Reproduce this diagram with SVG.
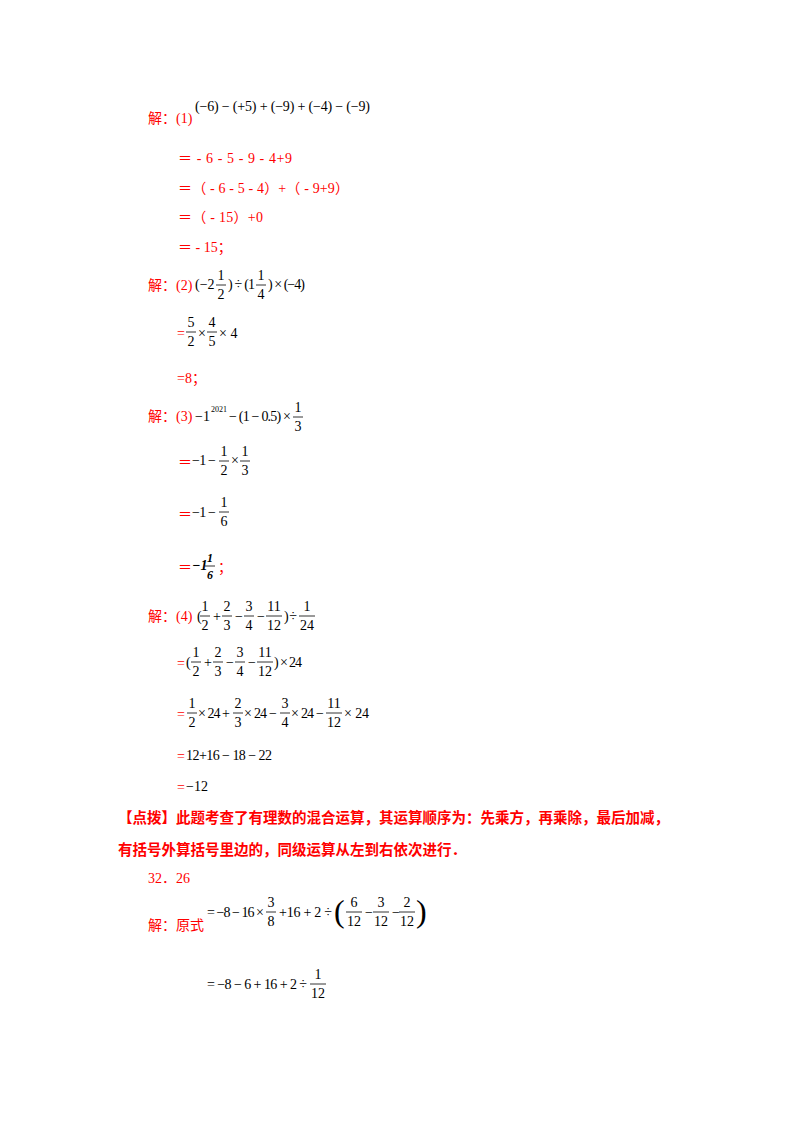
<svg xmlns="http://www.w3.org/2000/svg" width="800" height="1132" viewBox="0 0 800 1132">
<style>
text{font-family:"Liberation Serif","Noto Sans CJK SC",serif;font-size:14px;fill:#000}
.r{fill:#ff0000}
.c{font-family:"Liberation Serif","Noto Sans CJK SC",serif;fill:#ff0000;font-size:14px}
.b{font-weight:bold}
.m{text-anchor:middle}
line{stroke:#000;stroke-width:0.8}
</style>
<rect width="800" height="1132" fill="#fff"/>
<!-- (1) -->
<text x="148" y="123" class="c">解：(1)</text>
<text x="195" y="111" textLength="175">(−6) − (+5) + (−9) + (−4) − (−9)</text>
<text x="178" y="163" class="r" textLength="114">＝ - 6 - 5 - 9 - 4+9</text>
<text x="178" y="193" class="r" textLength="171">＝（ - 6 - 5 - 4）+（ - 9+9）</text>
<text x="178" y="222" class="r" textLength="85">＝（ - 15）+0</text>
<text x="178" y="252" class="r">＝ - 15；</text>
<!-- (2) -->
<text x="148" y="290" class="c">解：(2)</text>
<text x="195" y="289">(−2</text>
<text x="221" y="280" class="m">1</text><line x1="216" y1="285" x2="226" y2="285"/><text x="221" y="299" class="m">2</text>
<text x="228" y="289" textLength="27">) ÷ (1</text>
<text x="261" y="280" class="m">1</text><line x1="256" y1="285" x2="266" y2="285"/><text x="261" y="299" class="m">4</text>
<text x="268" y="289" textLength="37">) × (−4)</text>
<text x="177" y="338" class="r">=</text>
<text x="191" y="327" class="m">5</text><line x1="186" y1="332" x2="196" y2="332"/><text x="191" y="346" class="m">2</text>
<text x="198" y="338">×</text>
<text x="212" y="327" class="m">4</text><line x1="207" y1="332" x2="217" y2="332"/><text x="212" y="346" class="m">5</text>
<text x="219" y="338">× 4</text>
<text x="177" y="383" class="r">=8；</text>
<!-- (3) -->
<text x="148" y="421" class="c">解：(3)</text>
<text x="195" y="421">−1</text>
<text x="211" y="412" style="font-size:8px">2021</text>
<text x="229" y="421" textLength="62">− (1 − 0.5) ×</text>
<text x="298" y="412" class="m">1</text><line x1="293" y1="417" x2="303" y2="417"/><text x="298" y="431" class="m">3</text>
<text x="178" y="467" class="r">＝</text>
<text x="192" y="465" textLength="24">−1 −</text>
<text x="224" y="456" class="m">1</text><line x1="219" y1="461" x2="229" y2="461"/><text x="224" y="475" class="m">2</text>
<text x="231" y="465">×</text>
<text x="245" y="456" class="m">1</text><line x1="240" y1="461" x2="250" y2="461"/><text x="245" y="475" class="m">3</text>
<text x="178" y="519" class="r">＝</text>
<text x="192" y="517" textLength="24">−1 −</text>
<text x="224" y="507" class="m">1</text><line x1="219" y1="512" x2="229" y2="512"/><text x="224" y="526" class="m">6</text>
<text x="178" y="572" class="r">＝</text>
<text x="192" y="570" style="font-style:italic;font-weight:bold">−1</text>
<text x="210" y="562" class="m" style="font-style:italic;font-weight:bold;font-size:12px">1</text><line x1="205" y1="566" x2="215" y2="566"/><text x="210" y="579" class="m" style="font-style:italic;font-weight:bold;font-size:12px">6</text>
<text x="218" y="572" class="r">；</text>
<!-- (4) -->
<text x="148" y="621" class="c">解：(4)</text>
<text x="197" y="621">(</text>
<text x="205" y="611" class="m">1</text><line x1="200" y1="616" x2="210" y2="616"/><text x="205" y="630" class="m">2</text>
<text x="213" y="621">+</text>
<text x="227" y="611" class="m">2</text><line x1="222" y1="616" x2="232" y2="616"/><text x="227" y="630" class="m">3</text>
<text x="235" y="621">−</text>
<text x="249" y="611" class="m">3</text><line x1="244" y1="616" x2="254" y2="616"/><text x="249" y="630" class="m">4</text>
<text x="257" y="621">−</text>
<text x="274" y="611" class="m">11</text><line x1="266" y1="616" x2="282" y2="616"/><text x="274" y="630" class="m">12</text>
<text x="284" y="621" textLength="13">) ÷</text>
<text x="307" y="611" class="m">1</text><line x1="299" y1="616" x2="315" y2="616"/><text x="307" y="630" class="m">24</text>
<text x="177" y="668" class="r">=</text>
<text x="186" y="667">(</text>
<text x="196" y="657" class="m">1</text><line x1="191" y1="662" x2="201" y2="662"/><text x="196" y="676" class="m">2</text>
<text x="204" y="667">+</text>
<text x="218" y="657" class="m">2</text><line x1="213" y1="662" x2="223" y2="662"/><text x="218" y="676" class="m">3</text>
<text x="226" y="667">−</text>
<text x="240" y="657" class="m">3</text><line x1="235" y1="662" x2="245" y2="662"/><text x="240" y="676" class="m">4</text>
<text x="248" y="667">−</text>
<text x="265" y="657" class="m">11</text><line x1="257" y1="662" x2="273" y2="662"/><text x="265" y="676" class="m">12</text>
<text x="274" y="667" textLength="28">) × 24</text>
<text x="177" y="719" class="r">=</text>
<text x="192" y="708" class="m">1</text><line x1="187" y1="713" x2="197" y2="713"/><text x="192" y="727" class="m">2</text>
<text x="198" y="718" textLength="32">× 24 +</text>
<text x="238" y="708" class="m">2</text><line x1="233" y1="713" x2="243" y2="713"/><text x="238" y="727" class="m">3</text>
<text x="244" y="718" textLength="33">× 24 −</text>
<text x="285" y="708" class="m">3</text><line x1="280" y1="713" x2="290" y2="713"/><text x="285" y="727" class="m">4</text>
<text x="291" y="718" textLength="33">× 24 −</text>
<text x="334" y="708" class="m">11</text><line x1="326" y1="713" x2="342" y2="713"/><text x="334" y="727" class="m">12</text>
<text x="344" y="718" textLength="25">× 24</text>
<text x="177" y="761" class="r">=</text>
<text x="186" y="760" textLength="86">12+16 − 18 − 22</text>
<text x="177" y="792" class="r">=</text>
<text x="186" y="791">−12</text>
<!-- note -->
<text x="118" y="823" class="c b" style="font-size:14.5px">【点拨】此题考查了有理数的混合运算，其运算顺序为：先乘方，再乘除，最后加减，</text>
<text x="118" y="855" class="c b" style="font-size:14.5px">有括号外算括号里边的，同级运算从左到右依次进行．</text>
<text x="148" y="883" class="c">32．26</text>
<text x="148" y="930" class="c">解：原式</text>
<text x="207" y="917" textLength="57">= −8 − 16 ×</text>
<text x="271" y="907" class="m">3</text><line x1="266" y1="912" x2="276" y2="912"/><text x="271" y="926" class="m">8</text>
<text x="279" y="917" textLength="53">+16 + 2 ÷</text>
<text x="334" y="922" style="font-size:32px">(</text>
<text x="354" y="907" class="m">6</text><line x1="346" y1="912" x2="362" y2="912"/><text x="354" y="926" class="m">12</text>
<text x="365" y="917">−</text>
<text x="381" y="907" class="m">3</text><line x1="373" y1="912" x2="389" y2="912"/><text x="381" y="926" class="m">12</text>
<text x="392" y="917">−</text>
<text x="407" y="907" class="m">2</text><line x1="399" y1="912" x2="415" y2="912"/><text x="407" y="926" class="m">12</text>
<text x="416" y="922" style="font-size:32px">)</text>
<text x="207" y="989" textLength="100">= −8 − 6 + 16 + 2 ÷</text>
<text x="318" y="979" class="m">1</text><line x1="310" y1="984" x2="326" y2="984"/><text x="318" y="998" class="m">12</text>
</svg>
